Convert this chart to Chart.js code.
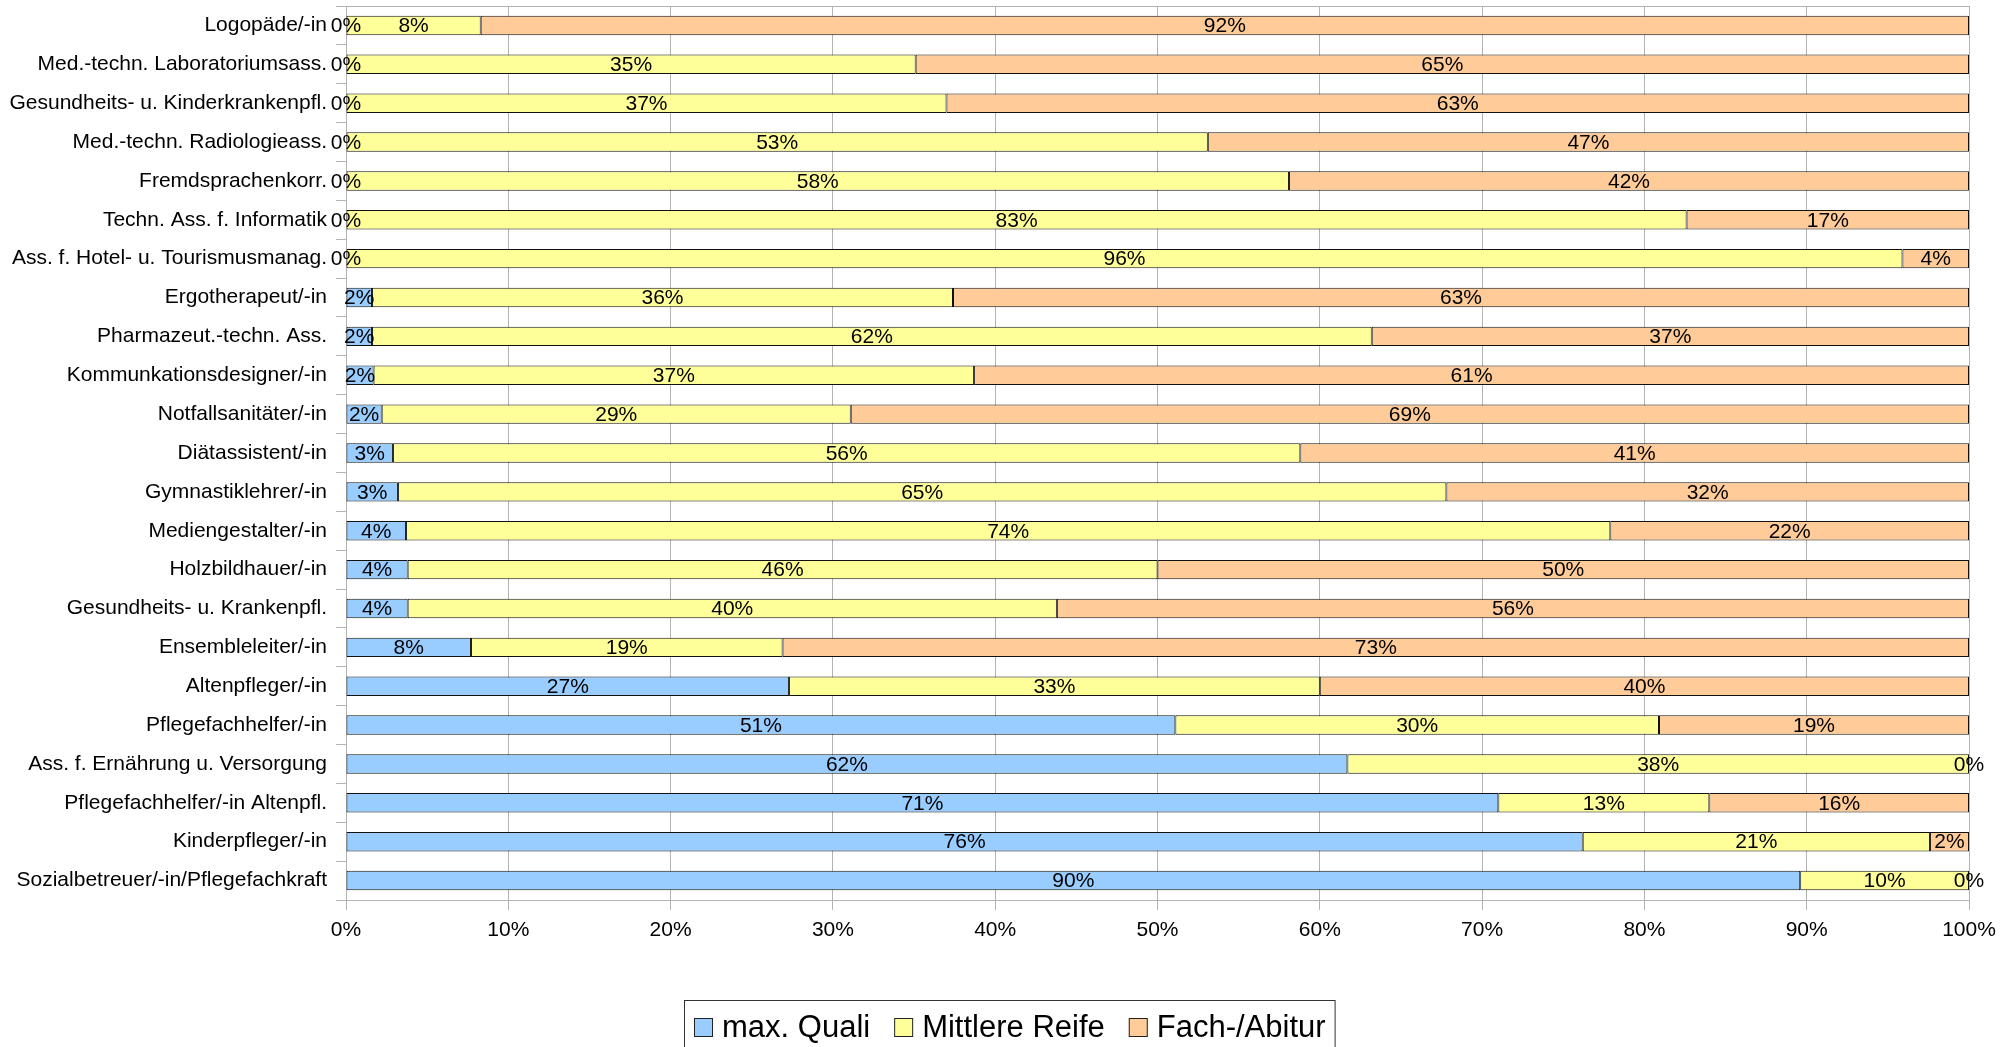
<!DOCTYPE html>
<html>
<head>
<meta charset="utf-8">
<title>Schulabschluss nach Ausbildungsberuf</title>
<script src="https://cdn.jsdelivr.net/npm/chart.js@4.4.0/dist/chart.umd.min.js"></script>
<style>
  html, body { margin: 0; padding: 0; background: #fff; }
  #chart { display: block; }
</style>
</head>
<body>
<canvas id="chart" width="2011" height="1047"></canvas>
<script>
const categories = [
  "Logopäde/-in",
  "Med.-techn. Laboratoriumsass.",
  "Gesundheits- u. Kinderkrankenpfl.",
  "Med.-techn. Radiologieass.",
  "Fremdsprachenkorr.",
  "Techn. Ass. f. Informatik",
  "Ass. f. Hotel- u. Tourismusmanag.",
  "Ergotherapeut/-in",
  "Pharmazeut.-techn. Ass.",
  "Kommunkationsdesigner/-in",
  "Notfallsanitäter/-in",
  "Diätassistent/-in",
  "Gymnastiklehrer/-in",
  "Mediengestalter/-in",
  "Holzbildhauer/-in",
  "Gesundheits- u. Krankenpfl.",
  "Ensembleleiter/-in",
  "Altenpfleger/-in",
  "Pflegefachhelfer/-in",
  "Ass. f. Ernährung u. Versorgung",
  "Pflegefachhelfer/-in Altenpfl.",
  "Kinderpfleger/-in",
  "Sozialbetreuer/-in/Pflegefachkraft"
]

// Anteile in Prozent
const maxQuali      = [0, 0, 0, 0, 0, 0, 0, 1.6, 1.6, 1.7, 2.2, 2.9, 3.2, 3.7, 3.8, 3.8, 7.7, 27.3, 51.1, 61.7, 71.0, 76.2, 89.6]
const mittlereReife = [8.3, 35.1, 37.0, 53.1, 58.1, 82.6, 95.9, 35.8, 61.6, 37.0, 28.9, 55.9, 64.6, 74.2, 46.2, 40.0, 19.2, 32.7, 29.8, 38.3, 13.0, 21.4, 10.4]
const fachAbitur    = [91.7, 64.9, 63.0, 46.9, 41.9, 17.4, 4.1, 62.6, 36.8, 61.3, 68.9, 41.2, 32.2, 22.1, 50.0, 56.2, 73.1, 40.0, 19.1, 0, 16.0, 2.4, 0]

const seriesNames = ["max. Quali", "Mittlere Reife", "Fach-/Abitur"]
const xTicks = [0, 10, 20, 30, 40, 50, 60, 70, 80, 90, 100]

const FONT = "'Liberation Sans', Arial, sans-serif"
const GRID = "#b3b3b3"

// Prozentwerte mittig in die Balken schreiben
const barLabels = {
  id: "barLabels",
  afterDraw(chart) {
    const ctx = chart.ctx
    ctx.save()
    ctx.font = "21px " + FONT
    ctx.fillStyle = "#000"
    ctx.textAlign = "center"
    ctx.textBaseline = "middle"
    chart.data.datasets.forEach((ds, i) => {
      chart.getDatasetMeta(i).data.forEach((bar, j) => {
        ctx.fillText(Math.round(ds.data[j]) + "%", (bar.x + bar.base) / 2, bar.y + 1)
      })
    })
    ctx.restore()
  }
}

// Rahmen um die Zeichenfläche
const plotFrame = {
  id: "plotFrame",
  beforeDatasetsDraw(chart) {
    const a = chart.chartArea
    const ctx = chart.ctx
    ctx.save()
    ctx.strokeStyle = GRID
    ctx.lineWidth = 1
    ctx.strokeRect(a.left + 0.5, a.top + 0.5, a.right - a.left, a.bottom - a.top)
    ctx.restore()
  }
}

// Legende mit Kasten unten
const boxLegend = {
  id: "boxLegend",
  afterDraw(chart) {
    const ctx = chart.ctx
    ctx.save()
    ctx.font = "31px " + FONT
    ctx.textBaseline = "middle"
    const sq = 19, gapText = 9, gapItem = 24, pad = 10
    const items = chart.data.datasets.map(ds => ({
      label: ds.label, color: ds.backgroundColor, w: ctx.measureText(ds.label).width
    }))
    let total = pad * 2 - 1
    items.forEach((it, k) => { total += sq + gapText + it.w + (k ? gapItem : 0) })
    const left = Math.round(chart.width / 2 + 4 - total / 2)
    const top = 1000
    ctx.strokeStyle = "#333"
    ctx.lineWidth = 1
    ctx.strokeRect(left + 0.5, top + 0.5, total, 80)
    let x = left + pad
    const cy = 1028
    items.forEach(it => {
      ctx.fillStyle = it.color
      ctx.fillRect(x, cy - 10, sq, sq)
      ctx.strokeStyle = "#222"
      ctx.strokeRect(x + 0.5, cy - 10 + 0.5, sq - 1, sq - 1)
      x += sq + gapText
      ctx.fillStyle = "#000"
      ctx.fillText(it.label, x, cy)
      x += it.w + gapItem
    })
    ctx.restore()
  }
}

new Chart(document.getElementById("chart"), {
  type: "bar",
  data: {
    labels: categories,
    datasets: [
      { label: seriesNames[0], data: maxQuali, backgroundColor: "#99ccff" },
      { label: seriesNames[1], data: mittlereReife, backgroundColor: "#ffff99" },
      { label: seriesNames[2], data: fachAbitur, backgroundColor: "#ffcc99" }
    ]
  },
  options: {
    indexAxis: "y",
    responsive: false,
    animation: false,
    devicePixelRatio: 1,
    layout: { padding: { top: 6, right: 42, bottom: 107, left: 0 } },
    datasets: {
      bar: {
        borderColor: "#111",
        borderWidth: 1,
        borderSkipped: false,
        categoryPercentage: 1,
        barPercentage: 0.5
      }
    },
    plugins: {
      legend: { display: false },
      tooltip: { enabled: false }
    },
    scales: {
      x: {
        stacked: true,
        min: 0,
        max: 100,
        afterBuildTicks: s => { s.ticks = xTicks.map(v => ({ value: v })) },
        afterFit: s => { s.height = 40; s.paddingLeft = 0; s.paddingRight = 0 },
        grid: { color: GRID, tickLength: 10 },
        border: { color: GRID },
        ticks: {
          padding: 8,
          color: "#000",
          font: { family: FONT, size: 21 },
          callback: v => v + "%"
        }
      },
      y: {
        stacked: true,
        afterFit: s => { s.width = 346; s.paddingTop = 0; s.paddingBottom = 0 },
        grid: { color: GRID, drawOnChartArea: false, tickLength: 10, offset: true },
        border: { color: GRID },
        ticks: {
          padding: 9,
          autoSkip: false,
          color: "#000",
          font: { family: FONT, size: 21 }
        }
      }
    }
  },
  plugins: [plotFrame, barLabels, boxLegend]
})
</script>
</body>
</html>
